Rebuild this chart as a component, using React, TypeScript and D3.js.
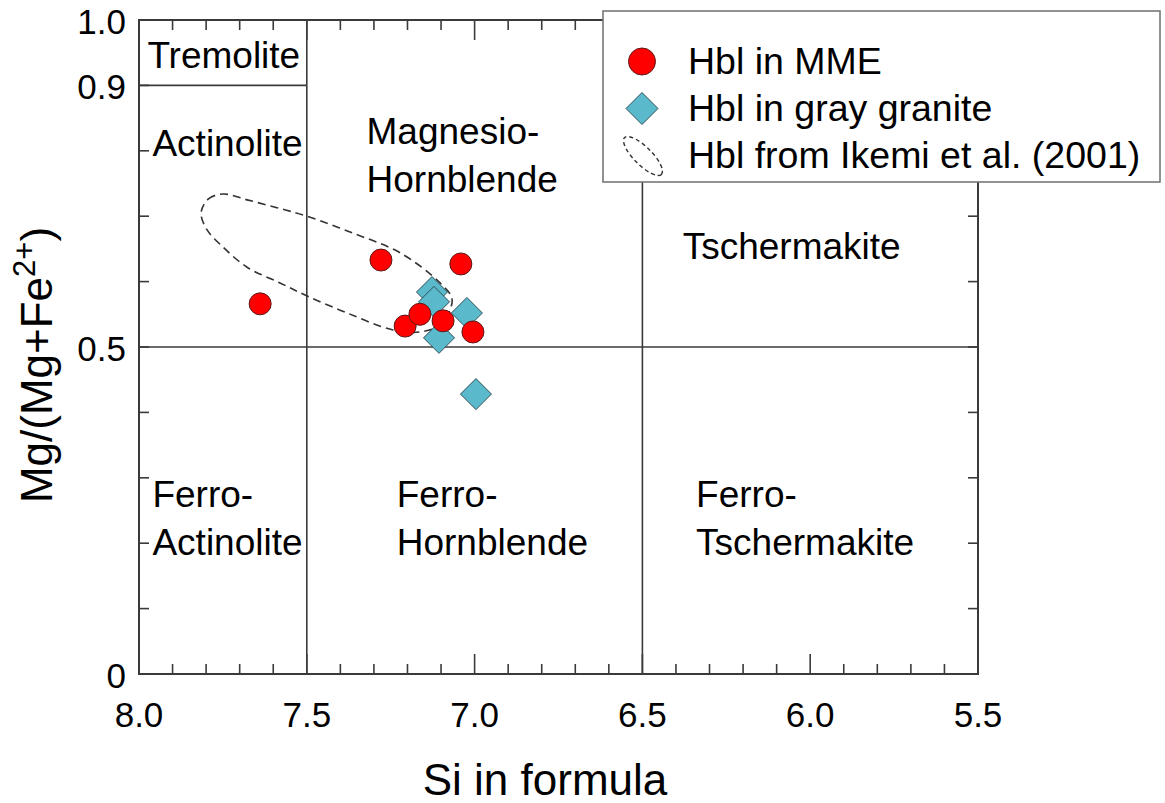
import React from "react";
import * as d3 from "d3";

// Si (apfu) and Mg/(Mg+Fe2+) for each hornblende analysis
const mmeSi = [7.639, 7.279, 7.041, 7.207, 7.163, 7.094, 7.005];
const mmeMg = [0.566, 0.633, 0.627, 0.532, 0.55, 0.54, 0.523];
const graniteSi = [7.127, 7.121, 7.023, 7.106, 6.996];
const graniteMg = [0.584, 0.569, 0.552, 0.514, 0.428];

// Outline of the Ikemi et al. (2001) compositional field
const fieldSi = [7.815, 7.794, 7.75, 7.678, 7.589, 7.499, 7.362, 7.222, 7.103, 7.067, 7.103, 7.163, 7.243, 7.38, 7.499, 7.58, 7.678, 7.75, 7.797];
const fieldMg = [0.705, 0.726, 0.734, 0.725, 0.713, 0.7, 0.674, 0.644, 0.598, 0.572, 0.534, 0.523, 0.526, 0.552, 0.578, 0.598, 0.622, 0.653, 0.679];

const xTickValues = [8.0, 7.5, 7.0, 6.5, 6.0, 5.5];
const yTickValues = [0, 0.5, 0.9, 1.0];
const yTickLabels = ["0", "0.5", "0.9", "1.0"];

// Classification boundaries (Leake 1997 calcic amphiboles)
const siBoundaries = [7.5, 6.5];
const mgBoundary = 0.5;
const tremoliteBoundary = 0.9;

const regionLabels = [
  { si: 7.975, mg: 0.9, lines: ["Tremolite"], dy: [-17] },
  { si: 7.96, mg: 0.9, lines: ["Actinolite"], dy: [71] },
  { si: 7.322, mg: 0.9, lines: ["Magnesio-", "Hornblende"], dy: [59, 107] },
  { si: 6.38, mg: 0.5, lines: ["Tschermakite"], dy: [-88] },
  { si: 7.96, mg: 0.5, lines: ["Ferro-", "Actinolite"], dy: [160, 208] },
  { si: 7.232, mg: 0.5, lines: ["Ferro-", "Hornblende"], dy: [160, 208] },
  { si: 6.34, mg: 0.5, lines: ["Ferro-", "Tschermakite"], dy: [160, 208] },
];

const W = 1165;
const H = 803;
const plot = { left: 139, right: 978, top: 20, bottom: 674 };
const FONT = "'Liberation Sans', Arial, Helvetica, sans-serif";
const AXIS = "#3a3a3a";

export default function App() {
  const x = d3.scaleLinear().domain([8, 5.5]).range([plot.left, plot.right]);
  const y = d3.scaleLinear().domain([0, 1]).range([plot.bottom, plot.top]);

  const minorX = d3.range(79, 55, -1).map((v) => v / 10).filter((v) => v < 8 && v > 5.5);
  const minorY = d3.range(1, 10).map((v) => v / 10);

  const fieldPts: [number, number][] = fieldSi.map((s, i) => [x(s), y(fieldMg[i])]);
  const fieldPath = d3.line().curve(d3.curveCatmullRomClosed.alpha(0.5))(fieldPts) || "";

  const diamond = (cx: number, cy: number, r: number) =>
    `M${cx},${cy - r}L${cx + r},${cy}L${cx},${cy + r}L${cx - r},${cy}Z`;

  const isMajorX = (v: number) => Math.abs(v * 2 - Math.round(v * 2)) < 1e-6;

  return (
    <svg width={W} height={H} style={{ display: "block", position: "absolute", left: 0, top: 0 }} fontFamily={FONT}>
      <rect x={0} y={0} width={W} height={H} fill="#fff" />

      {/* ticks along bottom and top edges */}
      {minorX.map((v) => {
        const len = isMajorX(v) ? 20 : 10;
        return (
          <g key={"xt" + v} stroke={AXIS} strokeWidth={1.6}>
            <line x1={x(v)} x2={x(v)} y1={plot.bottom} y2={plot.bottom - len} />
            <line x1={x(v)} x2={x(v)} y1={plot.top} y2={plot.top + len} />
          </g>
        );
      })}
      {/* ticks along left and right edges */}
      {minorY.map((v) => (
        <g key={"yt" + v} stroke={AXIS} strokeWidth={1.6}>
          <line x1={plot.left} x2={plot.left + 10} y1={y(v)} y2={y(v)} />
          <line x1={plot.right} x2={plot.right - 10} y1={y(v)} y2={y(v)} />
        </g>
      ))}

      {/* field boundaries */}
      {siBoundaries.map((s) => (
        <line key={"sb" + s} x1={x(s)} x2={x(s)} y1={plot.top} y2={plot.bottom} stroke={AXIS} strokeWidth={1.6} />
      ))}
      <line x1={plot.left} x2={plot.right} y1={y(mgBoundary)} y2={y(mgBoundary)} stroke={AXIS} strokeWidth={1.6} />
      <line x1={plot.left} x2={x(7.5)} y1={y(tremoliteBoundary)} y2={y(tremoliteBoundary)} stroke={AXIS} strokeWidth={1.6} />

      {/* frame */}
      <rect x={plot.left} y={plot.top} width={plot.right - plot.left} height={plot.bottom - plot.top} fill="none" stroke={AXIS} strokeWidth={2} />

      {/* region names */}
      {regionLabels.map((r, i) => (
        <text key={"rl" + i} fontSize={37} fill="#000">
          {r.lines.map((t, j) => (
            <tspan key={j} x={x(r.si)} y={y(r.mg) + r.dy[j]}>
              {t}
            </tspan>
          ))}
        </text>
      ))}

      {/* Ikemi et al. (2001) field */}
      <path d={fieldPath} fill="none" stroke="#333" strokeWidth={1.6} strokeDasharray="8,5" />

      {/* gray granite */}
      {graniteSi.map((s, i) => (
        <path key={"g" + i} d={diamond(x(s), y(graniteMg[i]), 15.5)} fill="#5bb9cc" stroke="#2f4f57" strokeWidth={1} />
      ))}
      {/* MME */}
      {mmeSi.map((s, i) => (
        <circle key={"m" + i} cx={x(s)} cy={y(mmeMg[i])} r={11} fill="#ff0000" stroke="#5a1a1a" strokeWidth={1} />
      ))}

      {/* tick labels */}
      {xTickValues.map((v) => (
        <text key={"xl" + v} x={x(v)} y={727} fontSize={35} textAnchor="middle" fill="#000">
          {v.toFixed(1)}
        </text>
      ))}
      {yTickValues.map((v, i) => (
        <text key={"yl" + v} x={126} y={y(v) + 14} fontSize={35} textAnchor="end" fill="#000">
          {yTickLabels[i]}
        </text>
      ))}

      {/* axis titles */}
      <text x={545} y={795} fontSize={44} textAnchor="middle" fill="#000">
        Si in formula
      </text>
      <text transform={`translate(52,365) rotate(-90)`} fontSize={44} textAnchor="middle" fill="#000">
        Mg/(Mg+Fe
        <tspan fontSize={31} dy={-17}>
          2+
        </tspan>
        <tspan dy={17}>)</tspan>
      </text>

      {/* legend */}
      <rect x={603} y={11} width={557} height={171} fill="#fff" stroke="#777" strokeWidth={1.6} />
      <circle cx={642} cy={61.5} r={13.5} fill="#ff0000" stroke="#5a1a1a" strokeWidth={1} />
      <text x={688} y={74} fontSize={37.5} fill="#000">Hbl in MME</text>
      <path d={diamond(642, 108.5, 16)} fill="#5bb9cc" stroke="#2f4f57" strokeWidth={1} />
      <text x={688} y={121} fontSize={37.5} fill="#000">Hbl in gray granite</text>
      <ellipse cx={643} cy={156} rx={26} ry={9} transform="rotate(45,643,156)" fill="none" stroke="#333" strokeWidth={1.4} strokeDasharray="4,3" />
      <text x={688} y={168} fontSize={37.5} fill="#000">Hbl from Ikemi et al. (2001)</text>
    </svg>
  );
}
